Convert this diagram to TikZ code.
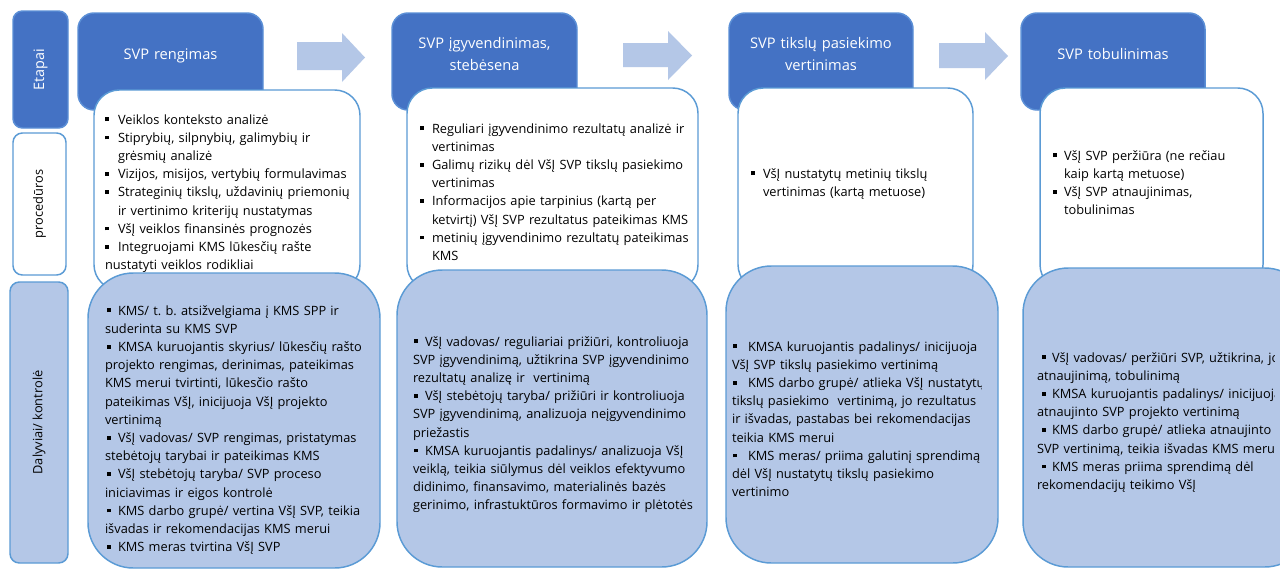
\documentclass[tikz,border=0pt]{standalone}
\usepackage{fontspec}
\setmainfont{Open Sans}
\definecolor{hdr}{HTML}{4472C4}
\definecolor{hdredge}{HTML}{5B8FD6}
\definecolor{lightfill}{HTML}{B4C7E7}
\definecolor{edge}{HTML}{5B9BD5}
\definecolor{arrowfill}{HTML}{B4C7E7}
\newcommand{\bul}{\rule[0.22em]{0.3em}{0.3em}}
\newlength{\bw}
\newlength{\bo}
\newcommand{\hitem}[1]{\hangindent=\bw\hangafter=1\noindent\makebox[\bw][l]{\hspace{\bo}\bul}#1\par}
\newcommand{\pitem}[1]{\noindent\makebox[\bw][l]{\hspace{\bo}\bul}#1\par}
\newcommand{\bx}[6]{\node[#2, minimum width={(#5-#3)*0.75pt}, minimum height={(#6-#4)*0.75pt}] (#1) at ({(#3+#5)/2},{(#4+#6)/2}) {};}
\frenchspacing
\begin{document}
\begin{tikzpicture}[x=0.75pt,y=-0.75pt,
  box/.style={inner sep=0pt, outer sep=0pt, line width=1.1pt},
  hdrbox/.style={box, fill=hdr, draw=hdredge, rounded corners=12pt},
  wbox/.style={box, fill=white, draw=edge, rounded corners=19pt},
  bbox/.style={box, fill=lightfill, draw=edge, rounded corners=34pt},
  sidedark/.style={box, fill=hdr, draw=hdredge, rounded corners=7pt},
  sidewhite/.style={box, fill=white, draw=edge, rounded corners=7pt},
  sidelight/.style={box, fill=lightfill, draw=edge, rounded corners=7pt},
  bodytxt/.style={anchor=base west, inner sep=0pt, outer sep=0pt, text width=330pt, font={\fontsize{9.6}{13.65}\selectfont}},
  hdrtxt/.style={anchor=base, inner sep=0pt, outer sep=0pt, text width=135pt, align=center, text=white, font={\fontsize{11}{17}\selectfont}},
  sidetxt/.style={inner sep=0pt, rotate=90, font={\fontsize{9.6}{12}\selectfont}},
  flowarrow/.style={fill=arrowfill}
]
\fill[white] (0,0) rectangle (1280,571);
\useasboundingbox (0,0) rectangle (1280,571);

% side labels
\bx{sEtapai}{sidedark}{13}{11}{68}{128}
\bx{sProc}{sidewhite}{13}{133}{66}{275}
\bx{sDal}{sidelight}{10}{282}{68}{563}
\node[sidetxt, text=white, font={\fontsize{10.8}{12}\selectfont}] (tEtapai) at (sEtapai) {Etapai};
\node[sidetxt] (tProc) at (sProc) {procedūros};
\node[sidetxt] (tDal) at (sDal) {Dalyviai/ kontrolė};

% headers
\bx{h1}{hdrbox}{78}{13}{263}{110}
\bx{h2}{hdrbox}{392}{13}{577}{110}
\bx{h3}{hdrbox}{729}{13}{913}{110}
\bx{h4}{hdrbox}{1021}{13}{1205}{110}
\node[hdrtxt] (th1) at (170.5,59) {SVP rengimas};
\node[hdrtxt] (th2) at (484.5,48) {SVP įgyvendinimas,\\ stebėsena};
\node[hdrtxt] (th3) at (821,48) {SVP tikslų pasiekimo\\ vertinimas};
\node[hdrtxt] (th4) at (1113,59) {SVP tobulinimas};

% arrows between stages
\fill[flowarrow] (297,42) -- (342,42) -- (342,33) -- (365,57.5) -- (342,82) -- (342,70) -- (297,70) -- cycle;
\fill[flowarrow] (623,43) -- (668,43) -- (668,31) -- (692,55.5) -- (668,80) -- (668,67) -- (623,67) -- cycle;
\fill[flowarrow] (939,43) -- (985,43) -- (985,32) -- (1008,56) -- (985,80) -- (985,68) -- (939,68) -- cycle;

% procedure boxes
\bx{w1}{wbox}{94}{90}{360}{290}
\bx{w2}{wbox}{407}{88}{698}{290}
\bx{w3}{wbox}{738}{88}{973}{290}
\bx{w4}{wbox}{1040}{88}{1263}{290}

\node[bodytxt] (tw1) at (105,124) {\setlength{\bw}{9.75pt}\setlength{\bo}{0pt}%
\hitem{Veiklos konteksto analizė}
\hitem{Stiprybių, silpnybių, galimybių ir\newline grėsmių analizė}
\hitem{Vizijos, misijos, vertybių formulavimas}
\hitem{Strateginių tikslų, uždavinių priemonių\newline ir vertinimo kriterijų nustatymas}
\hitem{VšĮ veiklos finansinės prognozės}
\pitem{Integruojami KMS lūkesčių rašte\newline nustatyti veiklos rodikliai}};

\node[bodytxt] (tw2) at (420,133) {\setlength{\bw}{9pt}\setlength{\bo}{0pt}%
\hitem{Reguliari įgyvendinimo rezultatų analizė ir\newline vertinimas}
\hitem{Galimų rizikų dėl VšĮ SVP tikslų pasiekimo\newline vertinimas}
\hitem{Informacijos apie tarpinius (kartą per\newline ketvirtį) VšĮ SVP rezultatus pateikimas KMS}
\hitem{metinių įgyvendinimo rezultatų pateikimas\newline KMS}};

\node[bodytxt] (tw3) at (751,178) {\setlength{\bw}{9pt}\setlength{\bo}{0pt}%
\hitem{VšĮ nustatytų metinių tikslų\newline vertinimas (kartą metuose)}};

\node[bodytxt] (tw4) at (1053,160) {\setlength{\bw}{8.25pt}\setlength{\bo}{0pt}%
\hitem{VšĮ SVP peržiūra (ne rečiau\newline kaip kartą metuose)}
\hitem{VšĮ SVP atnaujinimas,\newline tobulinimas}};

% participants / control boxes
\bx{b1}{bbox}{88}{273}{380}{568}
\bx{b2}{bbox}{397}{270}{707}{567}
\bx{b3}{bbox}{726}{266}{998}{563}
\bx{b4}{bbox}{1023}{268}{1310}{567}

\node[bodytxt] (tb1) at (105,315) {\setlength{\bw}{9.75pt}\setlength{\bo}{1.5pt}%
\pitem{KMS/ t. b. atsižvelgiama į KMS SPP ir\newline suderinta su KMS SVP}
\pitem{KMSA kuruojantis skyrius/ lūkesčių rašto\newline projekto rengimas, derinimas, pateikimas\newline KMS merui tvirtinti, lūkesčio rašto\newline pateikimas VšĮ, inicijuoja VšĮ projekto\newline vertinimą}
\pitem{VšĮ vadovas/ SVP rengimas, pristatymas\newline stebėtojų tarybai ir pateikimas KMS}
\pitem{VšĮ stebėtojų taryba/ SVP proceso\newline iniciavimas ir eigos kontrolė}
\pitem{KMS darbo grupė/ vertina VšĮ SVP, teikia\newline išvadas ir rekomendacijas KMS merui}
\pitem{KMS meras tvirtina VšĮ SVP}};

\node[bodytxt] (tb2) at (413,346) {\setlength{\bw}{9pt}\setlength{\bo}{0.75pt}%
\pitem{VšĮ vadovas/ reguliariai prižiūri, kontroliuoja\newline SVP įgyvendinimą, užtikrina SVP įgyvendinimo\newline rezultatų analizę ir\ \ vertinimą}
\pitem{VšĮ stebėtojų taryba/ prižiūri ir kontroliuoja\newline SVP įgyvendinimą, analizuoja neįgyvendinimo\newline priežastis}
\pitem{KMSA kuruojantis padalinys/ analizuoja VšĮ\newline veiklą, teikia siūlymus dėl veiklos efektyvumo\newline didinimo, finansavimo, materialinės bazės\newline gerinimo, infrastuktūros formavimo ir plėtotės}};

\begin{scope}
\clip (726,300) rectangle (981,520);
\node[bodytxt] (tb3) at (732,351) {\setlength{\bw}{12pt}\setlength{\bo}{0.75pt}%
\pitem{KMSA kuruojantis padalinys/ inicijuoja\newline VšĮ SVP tikslų pasiekimo vertinimą}
\pitem{KMS darbo grupė/ atlieka VšĮ nustatytų\newline tikslų pasiekimo\ \ vertinimą, jo rezultatus\newline ir išvadas, pastabas bei rekomendacijas\newline teikia KMS merui}
\pitem{KMS meras/ priima galutinį sprendimą\newline dėl VšĮ nustatytų tikslų pasiekimo\newline vertinimo}};
\end{scope}

\begin{scope}
\clip (1023,300) rectangle (1274,520);
\node[bodytxt] (tb4) at (1037,362) {\setlength{\bw}{11.25pt}\setlength{\bo}{3.75pt}%
\pitem{VšĮ vadovas/ peržiūri SVP, užtikrina, jo\newline atnaujinimą, tobulinimą}
\pitem{KMSA kuruojantis padalinys/ inicijuoja\newline atnaujinto SVP projekto vertinimą}
\pitem{KMS darbo grupė/ atlieka atnaujinto\newline SVP vertinimą, teikia išvadas KMS merui}
\pitem{KMS meras priima sprendimą dėl\newline rekomendacijų teikimo VšĮ}};
\end{scope}
\end{tikzpicture}
\end{document}
